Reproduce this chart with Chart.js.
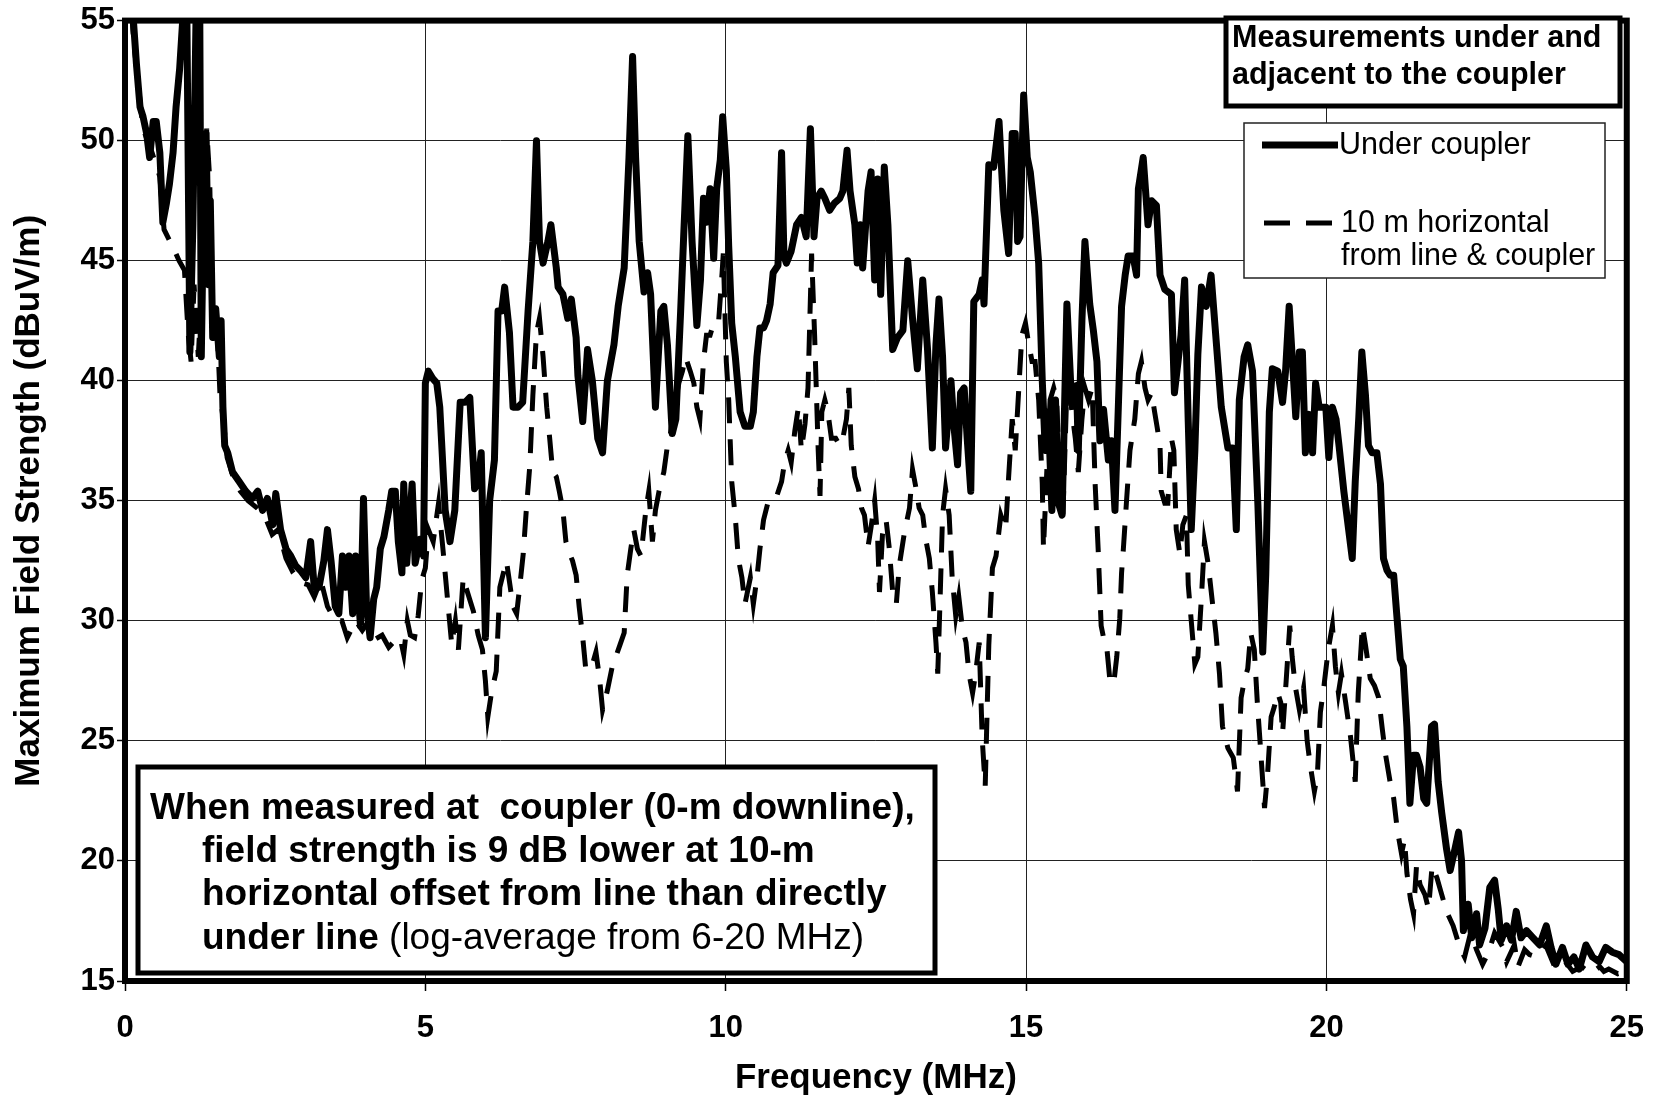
<!DOCTYPE html>
<html>
<head>
<meta charset="utf-8">
<script src="https://cdn.jsdelivr.net/npm/chart.js@4.4.1/dist/chart.umd.min.js"></script>
<style>
html,body{margin:0;padding:0;background:#fff;}
canvas{display:block;}
</style>
</head>
<body>
<canvas id="c" width="1663" height="1096"></canvas>
<script>
// ---- data (frequency MHz, field strength dBuV/m) ----
const underCoupler = [
[0.0,60],[0.14,55],[0.19,53.2],[0.25,51.4],[0.30,51.0],[0.36,50.3],[0.41,49.3],[0.47,50.8],[0.52,50.8],[0.58,49.5],
[0.63,46.6],[0.69,47.4],[0.74,48.2],[0.80,49.5],[0.85,51.4],[0.91,53],[0.96,55],[1.02,58],[1.08,41.2],[1.13,46.5],
[1.20,58],[1.24,58],[1.27,41],[1.31,47.5],[1.35,50.3],[1.39,44],[1.42,47.5],[1.46,41.8],[1.51,43],[1.57,41],
[1.60,42.5],[1.63,38.9],[1.66,37.3],[1.71,37.0],[1.79,36.2],[1.90,35.8],[2.01,35.4],[2.12,35.1],[2.21,35.4],[2.29,34.6],
[2.37,35.1],[2.46,34.0],[2.51,35.3],[2.59,33.8],[2.68,33.0],[2.76,32.7],[2.84,32.3],[2.92,32.1],[3.01,31.8],[3.09,33.3],
[3.15,31.4],[3.23,31.4],[3.31,32.5],[3.37,33.8],[3.43,32.5],[3.50,30.6],[3.56,30.3],[3.62,32.7],[3.67,31.4],[3.73,32.7],
[3.79,30.3],[3.84,32.7],[3.92,29.8],[3.97,35.1],[4.02,30.6],[4.08,29.3],[4.14,30.9],[4.19,31.4],[4.25,33.0],[4.31,33.5],
[4.39,34.6],[4.44,35.4],[4.50,35.4],[4.55,33.3],[4.61,32.0],[4.64,35.7],[4.69,32.4],[4.78,35.7],[4.83,32.4],[4.91,33.4],
[4.97,32.7],[5.00,39.9],[5.05,40.4],[5.12,40.1],[5.19,39.9],[5.24,38.9],[5.33,34.6],[5.41,33.3],[5.49,34.6],[5.58,39.1],
[5.66,39.1],[5.74,39.3],[5.82,35.5],[5.88,35.8],[5.93,37.0],[6.00,29.3],[6.07,35.0],[6.15,36.7],[6.21,42.9],[6.27,42.9],
[6.32,43.9],[6.40,42.0],[6.46,38.9],[6.54,38.9],[6.62,39.1],[6.71,42.9],[6.79,45.8],[6.85,50.0],[6.90,45.8],[6.96,44.9],
[7.04,45.8],[7.09,46.5],[7.18,44.7],[7.21,43.9],[7.29,43.6],[7.37,42.6],[7.43,43.4],[7.51,41.8],[7.54,40.2],[7.62,38.3],
[7.70,41.3],[7.78,40.0],[7.87,37.6],[7.95,37.0],[8.03,40.0],[8.14,41.5],[8.21,43.1],[8.31,44.7],[8.39,49.3],[8.45,53.5],
[8.50,49.3],[8.56,45.8],[8.64,43.7],[8.70,44.5],[8.75,43.6],[8.83,38.9],[8.92,42.9],[8.97,43.1],[9.03,41.5],[9.11,37.8],
[9.17,38.4],[9.25,42.9],[9.30,46.0],[9.37,50.2],[9.44,45.8],[9.52,42.3],[9.58,44.2],[9.63,47.6],[9.68,46.6],[9.74,48.0],
[9.80,45.1],[9.85,48.0],[9.91,49.2],[9.95,51.0],[10.01,48.8],[10.05,45.6],[10.10,42.4],[10.16,41.0],[10.24,38.7],[10.32,38.1],
[10.41,38.1],[10.46,38.7],[10.52,41.0],[10.57,42.2],[10.63,42.2],[10.68,42.5],[10.74,43.2],[10.79,44.5],[10.87,44.8],[10.93,49.5],
[10.97,45.2],[11.01,44.9],[11.09,45.4],[11.18,46.5],[11.26,46.8],[11.34,46.0],[11.41,50.5],[11.47,46.0],[11.52,47.6],[11.59,47.9],
[11.65,47.6],[11.73,47.1],[11.81,47.4],[11.90,47.6],[11.95,47.9],[12.02,49.6],[12.07,47.9],[12.15,46.5],[12.19,44.9],[12.24,46.5],
[12.28,44.7],[12.37,47.9],[12.42,48.7],[12.48,44.2],[12.53,48.4],[12.58,43.6],[12.64,48.9],[12.70,46.5],[12.78,41.3],[12.86,41.8],
[12.95,42.1],[13.03,45.0],[13.11,42.6],[13.19,40.5],[13.28,44.2],[13.36,41.3],[13.44,37.2],[13.50,41.5],[13.55,43.4],[13.61,41.0],
[13.66,37.2],[13.75,40.0],[13.80,38.1],[13.86,36.5],[13.91,39.5],[13.97,39.7],[14.02,37.6],[14.08,35.4],[14.13,43.3],[14.22,43.6],
[14.27,44.2],[14.30,43.2],[14.38,49.0],[14.46,48.9],[14.55,50.8],[14.63,47.1],[14.71,45.3],[14.77,50.3],[14.82,50.3],[14.86,45.8],
[14.90,46.0],[14.96,51.9],[15.02,49.3],[15.07,48.7],[15.15,46.8],[15.21,44.9],[15.27,40.0],[15.32,37.1],[15.37,38.7],[15.43,34.6],
[15.49,39.2],[15.54,34.9],[15.60,34.4],[15.68,43.2],[15.76,39.0],[15.84,39.8],[15.87,37.1],[15.93,42.5],[15.98,45.8],[16.06,43.2],
[16.12,42.1],[16.18,40.8],[16.23,37.5],[16.29,38.8],[16.37,36.7],[16.42,37.5],[16.48,34.6],[16.54,39.2],[16.59,43.1],[16.65,44.4],
[16.70,45.2],[16.78,45.2],[16.84,44.4],[16.87,48.0],[16.95,49.3],[17.03,46.5],[17.09,47.5],[17.17,47.3],[17.23,44.4],[17.31,43.8],
[17.42,43.6],[17.47,39.5],[17.53,40.8],[17.58,41.9],[17.64,44.2],[17.70,38.3],[17.75,33.8],[17.81,37.1],[17.86,41.1],[17.92,43.9],
[18.00,43.1],[18.08,44.4],[18.17,41.5],[18.25,38.9],[18.36,37.2],[18.44,37.2],[18.50,33.8],[18.55,39.2],[18.63,41.0],[18.69,41.5],
[18.77,40.4],[18.86,34.8],[18.94,28.7],[18.99,31.9],[19.05,38.7],[19.10,40.5],[19.19,40.4],[19.27,39.1],[19.32,40.4],[19.38,43.1],
[19.44,40.6],[19.49,38.5],[19.55,41.2],[19.60,41.2],[19.65,37.0],[19.71,38.6],[19.77,37.0],[19.82,39.9],[19.88,38.9],[19.99,38.9],
[20.04,36.8],[20.10,38.9],[20.16,38.4],[20.21,37.3],[20.29,35.4],[20.37,33.8],[20.43,32.6],[20.48,35.8],[20.54,38.5],[20.59,41.2],
[20.65,39.4],[20.70,37.3],[20.76,37.0],[20.84,37.0],[20.90,35.7],[20.95,32.6],[21.01,32.1],[21.06,31.9],[21.12,31.9],[21.17,30.3],
[21.23,28.4],[21.28,28.1],[21.34,25.6],[21.39,22.4],[21.45,24.4],[21.50,24.4],[21.56,23.9],[21.62,22.6],[21.67,22.4],[21.75,25.6],
[21.80,25.7],[21.86,23.3],[21.92,22.0],[22.00,20.5],[22.06,19.6],[22.14,20.5],[22.20,21.2],[22.25,20.0],[22.28,17.1],[22.36,18.2],
[22.42,16.8],[22.50,17.8],[22.55,16.5],[22.64,17.2],[22.72,18.9],[22.80,19.2],[22.86,18.0],[22.91,16.7],[23.00,17.3],[23.08,16.7],
[23.16,17.9],[23.24,16.8],[23.33,17.1],[23.44,16.8],[23.55,16.5],[23.66,17.3],[23.74,16.4],[23.82,15.7],[23.93,16.4],[24.02,15.7],
[24.12,16.0],[24.21,15.5],[24.32,16.5],[24.43,16.0],[24.54,15.8],[24.65,16.4],[24.76,16.2],[24.87,16.1],[25.0,15.8]
];

const horizontal10m = [
[0.0,59],[0.15,54],[0.30,50.5],[0.45,49.5],[0.58,48.5],[0.65,46.3],[0.75,45.8],[0.83,45.4],[0.90,45.0],[0.99,44.6],
[1.05,42],[1.10,40.8],[1.15,44],[1.22,41],[1.30,45],[1.36,50.5],[1.41,48.4],[1.46,41.5],[1.52,43],[1.58,39.5],
[1.64,38.3],[1.70,36.8],[1.80,36.0],[1.92,35.4],[2.05,35.0],[2.20,34.7],[2.32,34.4],[2.45,33.6],[2.55,33.8],[2.68,32.6],
[2.80,32.0],[2.92,31.6],[3.05,31.5],[3.15,31.0],[3.26,31.7],[3.37,30.6],[3.50,30.0],[3.61,30.0],[3.70,29.3],[3.84,30.0],
[3.95,29.6],[4.06,30.0],[4.14,29.2],[4.28,29.4],[4.39,28.9],[4.50,29.2],[4.58,29.3],[4.64,28.6],[4.70,30.0],[4.75,29.4],
[4.82,29.3],[4.88,30.2],[4.94,31.7],[5.00,32.2],[5.05,33.8],[5.13,33.3],[5.22,34.9],[5.30,32.8],[5.38,30.6],[5.44,29.0],
[5.50,30.0],[5.55,28.8],[5.63,31.8],[5.70,31.2],[5.80,30.4],[5.88,29.4],[5.95,28.8],[6.00,27.5],[6.04,26.0],[6.10,27.0],
[6.18,27.9],[6.24,31.4],[6.35,32.5],[6.46,30.6],[6.52,30.3],[6.57,31.4],[6.63,32.8],[6.68,34.6],[6.74,36.5],[6.79,39.4],
[6.85,42.0],[6.90,42.6],[6.96,41.0],[7.02,38.9],[7.07,37.6],[7.12,36.2],[7.18,36.0],[7.23,35.4],[7.29,34.6],[7.34,33.3],
[7.40,32.8],[7.45,32.5],[7.51,31.9],[7.56,30.6],[7.62,29.3],[7.67,28.0],[7.76,28.0],[7.84,28.7],[7.90,27.6],[7.95,26.3],
[8.03,27.1],[8.12,28.2],[8.17,28.5],[8.24,29.0],[8.31,29.5],[8.36,31.9],[8.42,33.0],[8.47,33.8],[8.53,33.0],[8.59,32.7],
[8.67,34.6],[8.72,35.4],[8.78,33.3],[8.83,34.6],[8.89,35.4],[8.97,36.2],[9.03,37.3],[9.08,37.8],[9.14,38.9],[9.22,39.9],
[9.28,40.4],[9.33,41.0],[9.41,40.4],[9.47,39.9],[9.52,38.9],[9.57,38.4],[9.63,40.8],[9.68,41.9],[9.74,41.9],[9.80,42.4],
[9.88,42.4],[9.94,44.5],[9.96,45.3],[10.01,40.8],[10.05,39.2],[10.10,35.8],[10.16,34.3],[10.21,32.6],[10.27,31.8],[10.32,30.7],
[10.41,31.8],[10.46,30.7],[10.52,31.8],[10.57,33.0],[10.63,34.2],[10.71,35.0],[10.79,35.0],[10.85,35.2],[10.93,35.8],[10.98,36.6],
[11.04,37.1],[11.09,36.6],[11.15,37.9],[11.21,38.9],[11.26,37.1],[11.32,38.2],[11.37,39.7],[11.43,45.3],[11.48,41.9],[11.54,37.1],
[11.57,35.2],[11.60,38.7],[11.65,39.2],[11.70,38.7],[11.76,37.6],[11.83,37.6],[11.90,37.3],[11.95,37.6],[12.01,38.4],[12.05,39.7],
[12.09,37.3],[12.15,36.0],[12.21,35.5],[12.26,34.7],[12.31,34.4],[12.37,33.1],[12.42,33.9],[12.48,35.0],[12.53,33.4],[12.56,31.2],
[12.61,33.6],[12.67,34.2],[12.72,33.1],[12.78,31.2],[12.84,30.7],[12.89,32.3],[12.97,33.6],[13.06,34.7],[13.11,36.3],[13.17,35.5],
[13.22,34.7],[13.28,34.4],[13.33,33.4],[13.39,32.6],[13.44,31.2],[13.50,29.1],[13.53,27.8],[13.57,31.0],[13.61,34.4],[13.66,35.5],
[13.72,34.4],[13.77,31.8],[13.83,30.2],[13.88,31.0],[13.94,29.7],[14.00,29.1],[14.05,27.8],[14.11,27.0],[14.16,27.8],[14.22,29.1],
[14.27,25.1],[14.32,23.1],[14.38,29.0],[14.44,32.2],[14.50,32.7],[14.58,34.4],[14.62,34.1],[14.66,33.8],[14.71,36.0],[14.77,38.4],
[14.82,37.1],[14.88,39.7],[14.93,41.9],[14.99,42.4],[15.04,41.6],[15.10,40.8],[15.15,40.8],[15.21,39.2],[15.27,35.7],[15.29,33.0],
[15.35,36.5],[15.40,39.2],[15.46,39.7],[15.51,39.2],[15.57,35.2],[15.62,34.9],[15.68,39.7],[15.74,39.2],[15.82,37.6],[15.87,36.2],
[15.93,38.4],[15.98,39.7],[16.04,39.2],[16.10,39.7],[16.15,35.7],[16.20,33.0],[16.25,29.8],[16.29,29.3],[16.34,29.0],[16.40,27.4],
[16.46,27.4],[16.51,28.5],[16.56,30.1],[16.59,32.0],[16.62,33.0],[16.67,34.9],[16.73,37.1],[16.81,38.4],[16.87,40.3],[16.92,40.8],
[16.98,39.7],[17.03,39.2],[17.09,39.5],[17.14,38.7],[17.18,38.1],[17.23,37.3],[17.25,35.4],[17.31,34.9],[17.36,34.9],[17.42,37.6],
[17.46,37.1],[17.50,33.8],[17.56,32.8],[17.61,34.0],[17.67,34.4],[17.70,31.5],[17.75,30.0],[17.81,28.2],[17.86,28.5],[17.92,31.0],
[17.97,33.3],[18.03,32.4],[18.11,30.6],[18.16,29.5],[18.22,27.8],[18.27,25.6],[18.36,24.7],[18.45,24.3],[18.52,22.9],[18.58,26.8],
[18.64,27.6],[18.69,28.0],[18.74,29.5],[18.80,28.8],[18.85,26.6],[18.90,24.8],[18.97,22.2],[19.02,23.6],[19.08,26.0],[19.13,26.4],
[19.19,27.0],[19.24,26.6],[19.27,25.3],[19.33,27.5],[19.39,29.8],[19.43,28.5],[19.48,27.3],[19.55,26.3],[19.62,27.2],[19.68,25.0],
[19.73,24.0],[19.80,22.9],[19.85,23.6],[19.90,26.2],[19.96,27.3],[20.03,28.8],[20.10,29.8],[20.15,28.1],[20.20,27.0],[20.25,27.8],
[20.32,26.6],[20.40,25.2],[20.48,23.3],[20.53,27.0],[20.60,29.8],[20.65,29.0],[20.73,27.6],[20.80,27.3],[20.87,26.8],[20.93,25.5],
[20.98,24.5],[21.06,23.3],[21.12,22.6],[21.18,21.3],[21.25,20.3],[21.30,20.9],[21.34,19.5],[21.40,18.4],[21.45,17.8],[21.50,19.8],
[21.56,19.0],[21.64,18.6],[21.70,18.0],[21.76,19.8],[21.84,19.3],[21.92,18.6],[22.00,17.9],[22.11,17.3],[22.22,16.4],[22.30,16.0],
[22.40,17.0],[22.50,16.3],[22.60,15.7],[22.70,16.2],[22.80,17.0],[22.94,16.4],[23.00,15.8],[23.13,16.5],[23.19,15.6],[23.30,16.3],
[23.38,16.1],[23.50,16.0],[23.65,16.5],[23.80,15.6],[23.95,15.9],[24.10,15.4],[24.25,15.6],[24.40,15.3],[24.55,15.6],[24.62,15.4],
[24.70,15.5],[24.85,15.3],[25.0,15.4]
];

const seriesNames = ['Under coupler', '10 m horizontal|from line & coupler'];
const xTicks = [0, 5, 10, 15, 20, 25];
const yTicks = [15, 20, 25, 30, 35, 40, 45, 50, 55];
const xTitle = 'Frequency (MHz)';
const yTitle = 'Maximum Field Strength (dBuV/m)';
const legendTitle = ['Measurements under and', 'adjacent to the coupler'];
const noteLines = [
  'When measured at  coupler (0-m downline),',
  'field strength is 9 dB lower at 10-m',
  'horizontal offset from line than directly',
  'under line|(log-average from 6-20 MHz)'
];

const FAM = "'Liberation Sans', Arial, Helvetica, sans-serif";
Chart.defaults.font.family = FAM;
Chart.defaults.color = '#000';

const decor = {
  id: 'decor',
  beforeDraw(chart) {
    const ctx = chart.ctx;
    ctx.save();
    ctx.fillStyle = '#fff';
    ctx.fillRect(0, 0, chart.width, chart.height);
    ctx.restore();
  },
  afterDatasetsDraw(chart) {
    const ctx = chart.ctx, a = chart.chartArea;
    const ds = chart.data.datasets;
    ctx.save();
    // plot frame
    ctx.strokeStyle = '#000';
    ctx.lineWidth = 6;
    ctx.strokeRect(a.left, a.top, a.right - a.left, a.bottom - a.top);

    // legend title box
    ctx.fillStyle = '#fff';
    ctx.fillRect(1226, 18, 394, 88);
    ctx.lineWidth = 5;
    ctx.strokeRect(1226, 18, 394, 88);
    ctx.fillStyle = '#000';
    ctx.font = 'bold 30.5px ' + FAM;
    ctx.textBaseline = 'middle';
    ctx.textAlign = 'left';
    ctx.fillText(legendTitle[0], 1232, 39);
    ctx.fillText(legendTitle[1], 1232, 76);

    // legend box
    ctx.fillStyle = '#fff';
    ctx.fillRect(1244, 123, 361, 155);
    ctx.lineWidth = 1.5;
    ctx.strokeStyle = '#222';
    ctx.strokeRect(1244, 123, 361, 155);
    // samples
    ctx.strokeStyle = ds[0].borderColor;
    ctx.lineWidth = ds[0].borderWidth;
    ctx.setLineDash([]);
    ctx.beginPath(); ctx.moveTo(1262, 145); ctx.lineTo(1338, 145); ctx.stroke();
    ctx.lineWidth = ds[1].borderWidth;
    ctx.setLineDash(ds[1].borderDash);
    ctx.beginPath(); ctx.moveTo(1264, 223); ctx.lineTo(1336, 223); ctx.stroke();
    ctx.setLineDash([]);
    ctx.fillStyle = '#000';
    ctx.font = '30.5px ' + FAM;
    ctx.fillText(seriesNames[0], 1339, 146);
    const n2 = seriesNames[1].split('|');
    ctx.fillText(n2[0], 1341, 224);
    ctx.fillText(n2[1], 1341, 257);

    // note box
    ctx.fillStyle = '#fff';
    ctx.fillRect(138, 767, 797, 206);
    ctx.strokeStyle = '#000';
    ctx.lineWidth = 5;
    ctx.strokeRect(138, 767, 797, 206);
    ctx.fillStyle = '#000';
    ctx.font = 'bold 37px ' + FAM;
    ctx.fillText(noteLines[0], 150, 809);
    ctx.fillText(noteLines[1], 202, 852);
    ctx.fillText(noteLines[2], 202, 895);
    const p = noteLines[3].split('|');
    ctx.fillText(p[0], 202, 939);
    const w = ctx.measureText(p[0] + ' ').width;
    ctx.font = '37px ' + FAM;
    ctx.fillText(p[1], 202 + w, 939);
    ctx.restore();
  }
};

new Chart(document.getElementById('c'), {
  type: 'line',
  data: {
    datasets: [
      {
        label: seriesNames[0],
        data: underCoupler.map(([x, y]) => ({x, y})),
        borderColor: '#000',
        borderWidth: 7,
        pointRadius: 0,
        tension: 0,
        borderJoinStyle: 'round',
        order: 1
      },
      {
        label: seriesNames[1].replace('|', ' '),
        data: horizontal10m.map(([x, y]) => ({x, y})),
        borderColor: '#000',
        borderWidth: 5,
        borderDash: [26, 16],
        pointRadius: 0,
        tension: 0,
        order: 2
      }
    ]
  },
  options: {
    responsive: false,
    animation: false,
    devicePixelRatio: 1,
    layout: { padding: { top: 19, right: 29, left: 0, bottom: 0 } },
    plugins: { legend: { display: false }, tooltip: { enabled: false } },
    scales: {
      x: {
        type: 'linear',
        min: xTicks[0], max: xTicks[xTicks.length - 1],
        afterBuildTicks: s => { s.ticks = xTicks.map(v => ({value: v})); },
        afterFit: s => { s.height = 115; },
        ticks: { font: { size: 31, weight: 'bold' }, padding: 19, maxRotation: 0, color: '#000' },
        grid: { color: '#222', lineWidth: 1, tickLength: 10, tickColor: '#000', tickWidth: 1.5 },
        border: { display: false },
        title: { display: true, text: xTitle, font: { size: 35, weight: 'bold', lineHeight: 1.0 }, padding: { top: 0, bottom: 0 }, color: '#000' }
      },
      y: {
        type: 'linear',
        min: yTicks[0], max: yTicks[yTicks.length - 1],
        afterBuildTicks: s => { s.ticks = yTicks.map(v => ({value: v})); },
        afterFit: s => { s.width = 125; },
        ticks: { font: { size: 31, weight: 'bold' }, padding: 2, color: '#000' },
        grid: { color: '#222', lineWidth: 1, tickLength: 8, tickColor: '#000', tickWidth: 1.5 },
        border: { display: false },
        title: { display: true, text: yTitle, font: { size: 35, weight: 'bold', lineHeight: 1.0 }, padding: { top: 12, bottom: 0 }, color: '#000' }
      }
    }
  },
  plugins: [decor]
});
</script>
</body>
</html>
